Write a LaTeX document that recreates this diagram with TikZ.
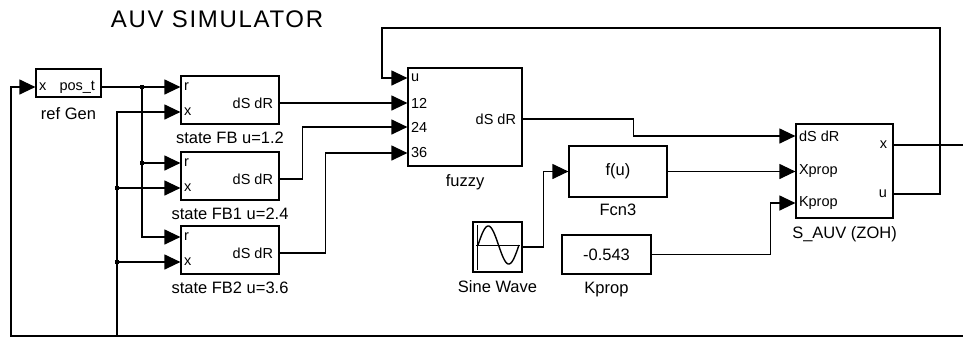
\documentclass[tikz,border=0pt]{standalone}
\usepackage{fontspec}
\setmainfont{Liberation Sans}
\newfontfamily\titlefont[LetterSpace=7]{Liberation Sans}
\usetikzlibrary{arrows.meta}

\begin{document}
\begin{tikzpicture}[x=1pt,y=-1pt,line width=1.2pt,label distance=7pt]
      \tikzset{block/.style={draw, rectangle, inner sep=0pt, font=\fontsize{16.5}{18}\selectfont},
               lbl/.style={inner sep=0pt, font=\fontsize{16.5}{18}\selectfont},
               inport/.style={anchor=west, inner xsep=3pt, inner ysep=0pt, font=\fontsize{14.5}{16}\selectfont},
               outport/.style={anchor=east, inner xsep=6pt, inner ysep=0pt, font=\fontsize{14.5}{16}\selectfont},
               sig/.style={-{Triangle[length=16pt,width=15pt]}},
               junction/.style={rectangle, fill, inner sep=0pt, minimum size=3.5pt}}
      \useasboundingbox (0,0) rectangle (963,338);
      \node[font=\titlefont\fontsize{24}{26}\selectfont] (title) at (217,19) {AUV SIMULATOR};
%% Blocks
      \node[block, minimum width=65pt, minimum height=28pt, label={[lbl, yshift=-2pt]below:ref Gen}] (refgen) at (68.5,83) {};
      \node[inport] (rgx) at (refgen.west |- 0,87) {x};
      \node[outport] (rgpos) at (refgen.east |- 0,87) {pos\_t};

      \node[block, minimum width=98pt, minimum height=48pt, label={[lbl]below:state FB u=1.2}] (fb) at (230,100) {};
      \node[inport] (fbr) at (fb.west |- 0,87) {r};
      \node[inport] (fbx) at (fb.west |- 0,112) {x};
      \node[outport] (fbo) at (fb.east |- 0,103) {dS dR};

      \node[block, minimum width=98pt, minimum height=48pt, label={[lbl]below:state FB1 u=2.4}] (fb1) at (230,176) {};
      \node[inport] (fb1r) at (fb1.west |- 0,163) {r};
      \node[inport] (fb1x) at (fb1.west |- 0,188) {x};
      \node[outport] (fb1o) at (fb1.east |- 0,179) {dS dR};

      \node[block, minimum width=98pt, minimum height=48pt, label={[lbl]below:state FB2 u=3.6}] (fb2) at (230,250) {};
      \node[inport] (fb2r) at (fb2.west |- 0,237) {r};
      \node[inport] (fb2x) at (fb2.west |- 0,262) {x};
      \node[outport] (fb2o) at (fb2.east |- 0,253) {dS dR};

      \node[block, minimum width=114pt, minimum height=98pt, label={[lbl]below:fuzzy}] (fuzzy) at (465,117) {};
      \node[inport] (fzu) at (fuzzy.west |- 0,78) {u};
      \node[inport] (fz12) at (fuzzy.west |- 0,103) {12};
      \node[inport] (fz24) at (fuzzy.west |- 0,127) {24};
      \node[inport] (fz36) at (fuzzy.west |- 0,153) {36};
      \node[outport] (fzo) at (fuzzy.east |- 0,119) {dS dR};

      \node[block, minimum width=98pt, minimum height=51pt, label={[lbl, yshift=1pt]below:Fcn3}] (fcn) at (618,171.5) {f(u)};
      \node[block, minimum width=49pt, minimum height=50pt, label={[lbl]below:Sine Wave}] (sine) at (497.5,247) {};
      \node[block, minimum width=89pt, minimum height=39pt, label={[lbl]below:Kprop}] (const) at (606.5,254.5) {-0.543};

      \node[block, minimum width=97pt, minimum height=94pt, label={[lbl]below:S\_AUV (ZOH)}] (auv) at (844.5,171) {};
      \node[inport] (auvd) at (auv.west |- 0,136) {dS dR};
      \node[inport] (auvxp) at (auv.west |- fcn.west) {Xprop};
      \node[inport] (auvkp) at (auv.west |- 0,203) {Kprop};
      \node[outport] (auvx) at (auv.east |- 0,145) {x};
      \node[outport] (auvu) at (auv.east |- 0,194) {u};

% sine wave icon
      \draw[line width=0.8pt] (477,225) -- (477,270);
      \draw[line width=0.8pt] (476,245) -- (520,245);
      \draw[line width=1.4pt] plot[domain=478:519, samples=60, smooth] (\x,{245-19*sin(360*(\x-478)/41)});

%% Corners of the long lines
      \coordinate (botR) at (963,336);
      \coordinate (botL) at (11,336);
      \coordinate (jx) at (117,336);
      \coordinate (jr) at (142,87);
      \coordinate (topR) at (940,28);
      \coordinate (topL) at (382,28);
      \coordinate (xend) at (963,145);

%Signals
      \draw[sig] (botR) -- (botL) |- (rgx.west);
      \draw[sig] (rgpos.east) -- (fbr.west);
      \draw[sig] (jr) |- (fb1r.west);
      \draw[sig] (jr) |- (fb2r.west);
      \draw[sig] (jx) |- (fbx.west);
      \draw[sig] (jx |- fb1x.west) -- (fb1x.west);
      \draw[sig] (jx |- fb2x.west) -- (fb2x.west);
      \draw[sig] (fbo.east) -- (fz12.west);
      \draw[sig] (fb1o.east) -- ++(23,0) |- (fz24.west);
      \draw[sig] (fb2o.east) -- ++(46,0) |- (fz36.west);
      \draw[sig] (fzo.east) -- ++(111,0) |- (auvd.west);
      \draw[sig] (sine.east) -- ++(21,0) |- (fcn.west);
      \draw[sig] (fcn.east) -- (auvxp.west);
      \draw[sig] (const.east) -- ++(119,0) |- (auvkp.west);
      \draw[sig] (auvu.east) -| (topR) -- (topL) |- (fzu.west);
      \draw (auvx.east) -- (xend);
% branch points
      \node[junction] at (jr) {};
      \node[junction] at (jr |- fb1r.west) {};
      \node[junction] at (jx |- fb1x.west) {};
      \node[junction] at (jx |- fb2x.west) {};
\end{tikzpicture}
\end{document}
